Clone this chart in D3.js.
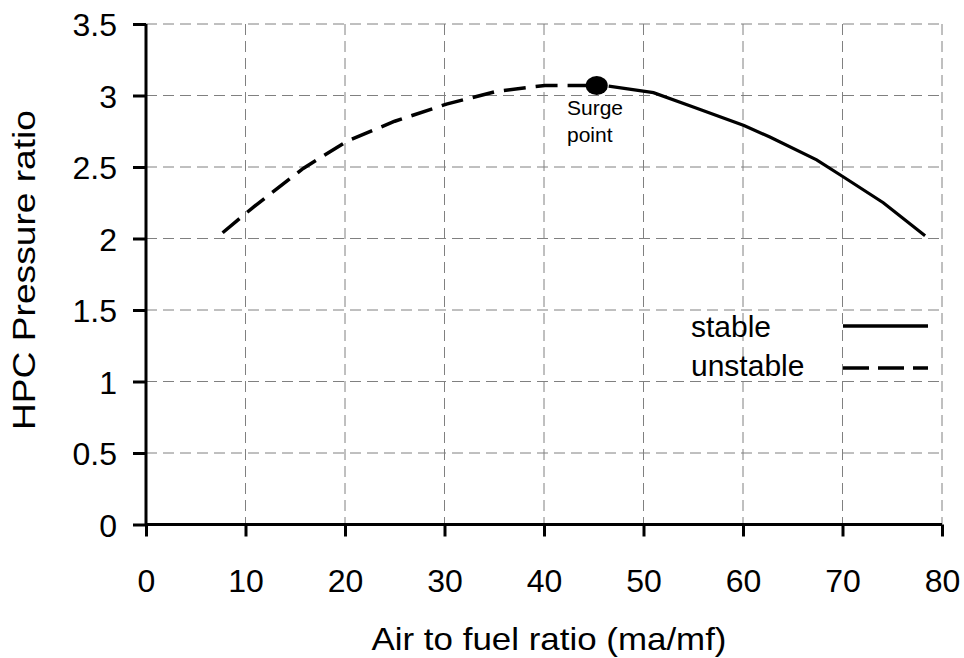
<!DOCTYPE html>
<html>
<head>
<meta charset="utf-8">
<script src="https://cdn.jsdelivr.net/npm/d3@7"></script>
<style>
  html, body { margin: 0; padding: 0; background: #fff; }
  svg { display: block; font-family: "Liberation Sans", Arial, sans-serif; }
</style>
</head>
<body>
<svg id="chart" width="964" height="658"></svg>
<script>
// ---- data ----
const unstableX = [7.7, 10.8, 15.8, 20.2, 25.0, 30.2, 35.3, 40.1, 45.3];
const unstableY = [2.04, 2.22, 2.49, 2.68, 2.82, 2.94, 3.03, 3.07, 3.07];
const stableX = [46.5, 51.0, 55.0, 60.1, 62.7, 67.4, 70.1, 74.1, 78.3];
const stableY = [3.065, 3.02, 2.92, 2.79, 2.71, 2.55, 2.43, 2.25, 2.02];
const surgeX = [45.3];
const surgeY = [3.07];
const xTicks = [0, 10, 20, 30, 40, 50, 60, 70, 80];
const yTicks = [0, 0.5, 1, 1.5, 2, 2.5, 3, 3.5];
const seriesNames = ["stable", "unstable"];

// ---- layout ----
const svg = d3.select("#chart");
const pLeft = 146, pRight = 942, pTop = 24, pBottom = 524.5;
const x = d3.scaleLinear().domain([0, 80]).range([pLeft, pRight]);
const y = d3.scaleLinear().domain([0, 3.5]).range([pBottom, pTop]);

svg.append("rect").attr("width", 964).attr("height", 658).attr("fill", "#fff");

// grid
const grid = svg.append("g");
grid.selectAll(".gx").data(xTicks.filter(d => d > 0)).enter().append("line")
  .attr("x1", d => x(d)).attr("x2", d => x(d))
  .attr("y1", y(3.5)).attr("y2", y(0))
  .attr("stroke", "#808080").attr("stroke-width", 1).attr("stroke-dasharray", "11,6");
grid.selectAll(".gy").data(yTicks.filter(d => d > 0)).enter().append("line")
  .attr("x1", x(0)).attr("x2", x(80))
  .attr("y1", d => y(d)).attr("y2", d => y(d))
  .attr("stroke", "#808080").attr("stroke-width", 1).attr("stroke-dasharray", "11,6");

// axes
const xAxis = svg.append("g").attr("transform", `translate(0,${y(0)})`)
  .call(d3.axisBottom(x).tickValues(xTicks).tickSize(12).tickPadding(28).tickFormat(d3.format("d")));
const yAxis = svg.append("g").attr("transform", `translate(${x(0)},0)`)
  .call(d3.axisLeft(y).tickValues(yTicks).tickSize(13).tickPadding(16).tickFormat(d => String(d)));
[xAxis, yAxis].forEach(a => {
  a.select(".domain").attr("stroke", "#000").attr("stroke-width", 3);
  a.selectAll(".tick line").attr("stroke", "#000").attr("stroke-width", 3);
  a.selectAll(".tick text").attr("fill", "#000").attr("font-size", 32)
    .attr("font-family", "Liberation Sans, Arial, sans-serif");
});
xAxis.select(".domain").attr("d", `M${x(0)},0H${x(80)}`);
yAxis.select(".domain").attr("d", `M0,${y(3.5)}V${y(0)}`);
xAxis.selectAll(".tick text").attr("dy", "0").attr("y", 67);
yAxis.selectAll(".tick text").attr("dy", "0.36em");

// lines
const line = d3.line().x(d => x(d[0])).y(d => y(d[1]));
const unstable = unstableX.map((v, i) => [v, unstableY[i]]);
const stable = stableX.map((v, i) => [v, stableY[i]]);
svg.append("path").datum(unstable).attr("d", line)
  .attr("fill", "none").attr("stroke", "#000").attr("stroke-width", 3.5)
  .attr("stroke-dasharray", "22,10");
svg.append("path").datum(stable).attr("d", line)
  .attr("fill", "none").attr("stroke", "#000").attr("stroke-width", 3.2);

// surge point
svg.selectAll(".surge").data(surgeX.map((v, i) => [v, surgeY[i]])).enter().append("ellipse")
  .attr("cx", d => x(d[0])).attr("cy", d => y(d[1]))
  .attr("rx", 11).attr("ry", 9.5).attr("fill", "#000");
const sl = svg.append("text").attr("font-size", 21).attr("fill", "#000");
sl.append("tspan").attr("x", 567).attr("y", 115).text("Surge");
sl.append("tspan").attr("x", 567).attr("y", 142).text("point");

// legend
const leg = svg.append("g");
seriesNames.forEach((name, i) => {
  const by = [337, 376][i];
  const ly = [326, 368][i];
  leg.append("text").attr("x", 691).attr("y", by).attr("font-size", 30).attr("fill", "#000").text(name);
  leg.append("line").attr("x1", 843).attr("x2", 928).attr("y1", ly).attr("y2", ly)
    .attr("stroke", "#000").attr("stroke-width", 3.3)
    .attr("stroke-dasharray", i === 1 ? "26,9" : null);
});

// titles
svg.append("text").attr("x", 549).attr("y", 650).attr("text-anchor", "middle")
  .attr("font-size", 32).attr("fill", "#000")
  .attr("textLength", 355).attr("lengthAdjust", "spacingAndGlyphs")
  .text("Air to fuel ratio (ma/mf)");
svg.append("text").attr("transform", "translate(35,270) rotate(-90)")
  .attr("text-anchor", "middle").attr("font-size", 32).attr("fill", "#000")
  .attr("textLength", 320).attr("lengthAdjust", "spacingAndGlyphs")
  .text("HPC Pressure ratio");
</script>
</body>
</html>
